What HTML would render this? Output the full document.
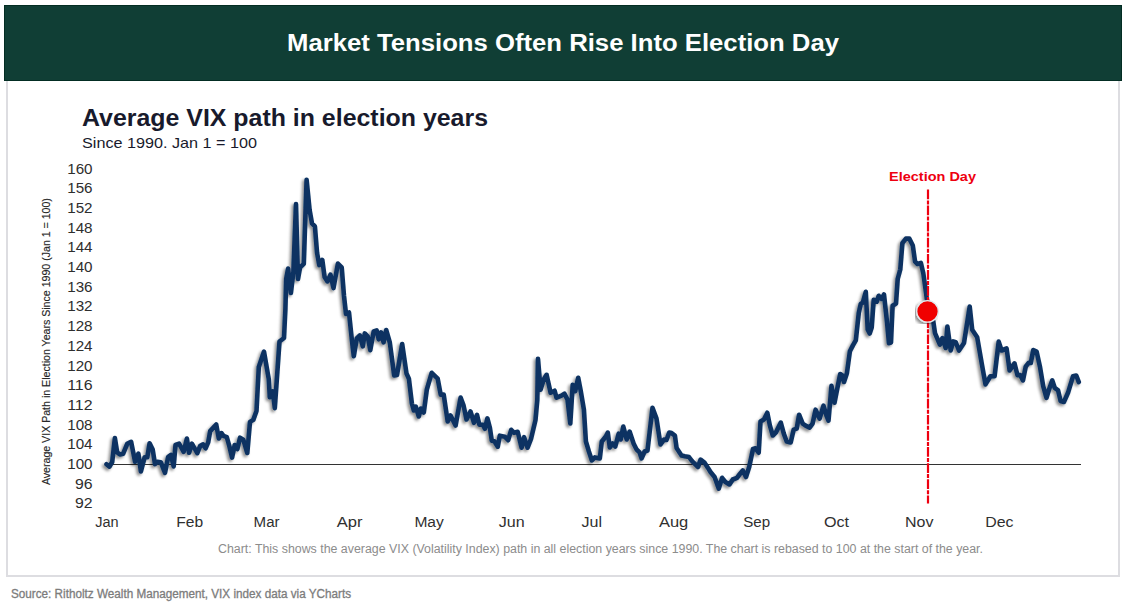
<!DOCTYPE html>
<html><head><meta charset="utf-8">
<style>
html,body{margin:0;padding:0;background:#fff;width:1124px;height:604px;overflow:hidden;}
svg{display:block;font-family:"Liberation Sans", sans-serif;}
</style></head><body>
<svg width="1124" height="604" viewBox="0 0 1124 604">
<defs>
<filter id="sh" x="-5%" y="-5%" width="110%" height="110%">
<feGaussianBlur in="SourceAlpha" stdDeviation="1.8"/>
<feOffset dx="-2" dy="2" result="b"/>
<feComponentTransfer><feFuncA type="linear" slope="0.45"/></feComponentTransfer>
<feMerge><feMergeNode/><feMergeNode in="SourceGraphic"/></feMerge>
</filter>
</defs>
<rect x="0" y="0" width="1124" height="604" fill="#ffffff"/>
<!-- box -->
<rect x="7" y="78" width="1112" height="498" fill="#fff" stroke="#dddde1" stroke-width="2"/>
<!-- header -->
<rect x="4.5" y="5.5" width="1117" height="75" fill="#103e35" stroke="#032d23" stroke-width="1"/>
<text x="287" y="51" fill="#ffffff" font-size="23.5" font-weight="bold" textLength="552" lengthAdjust="spacingAndGlyphs">Market Tensions Often Rise Into Election Day</text>
<!-- chart titles -->
<text x="82" y="126" fill="#181a2c" font-size="23.2" font-weight="bold" textLength="406" lengthAdjust="spacingAndGlyphs">Average VIX path in election years</text>
<text x="82" y="147.6" fill="#181a2c" font-size="15" textLength="175" lengthAdjust="spacingAndGlyphs">Since 1990. Jan 1 = 100</text>
<!-- y axis title -->
<text transform="translate(49.5 341.6) rotate(-90)" fill="#262626" stroke="#262626" stroke-width="0.15" font-size="10.5" text-anchor="middle" textLength="287" lengthAdjust="spacingAndGlyphs">Average VIX Path in Election Years Since 1990 (Jan 1 = 100)</text>
<g fill="#2e2e2e" font-size="14">
<text x="67.2" y="173.5" textLength="25.4" lengthAdjust="spacingAndGlyphs">160</text>
<text x="67.2" y="193.2" textLength="25.4" lengthAdjust="spacingAndGlyphs">156</text>
<text x="67.2" y="212.9" textLength="25.4" lengthAdjust="spacingAndGlyphs">152</text>
<text x="67.2" y="232.6" textLength="25.4" lengthAdjust="spacingAndGlyphs">148</text>
<text x="67.2" y="252.3" textLength="25.4" lengthAdjust="spacingAndGlyphs">144</text>
<text x="67.2" y="272.0" textLength="25.4" lengthAdjust="spacingAndGlyphs">140</text>
<text x="67.2" y="291.7" textLength="25.4" lengthAdjust="spacingAndGlyphs">136</text>
<text x="67.2" y="311.4" textLength="25.4" lengthAdjust="spacingAndGlyphs">132</text>
<text x="67.2" y="331.1" textLength="25.4" lengthAdjust="spacingAndGlyphs">128</text>
<text x="67.2" y="350.8" textLength="25.4" lengthAdjust="spacingAndGlyphs">124</text>
<text x="67.2" y="370.5" textLength="25.4" lengthAdjust="spacingAndGlyphs">120</text>
<text x="67.2" y="390.2" textLength="25.4" lengthAdjust="spacingAndGlyphs">116</text>
<text x="67.2" y="409.9" textLength="25.4" lengthAdjust="spacingAndGlyphs">112</text>
<text x="67.2" y="429.6" textLength="25.4" lengthAdjust="spacingAndGlyphs">108</text>
<text x="67.2" y="449.3" textLength="25.4" lengthAdjust="spacingAndGlyphs">104</text>
<text x="67.2" y="469.0" textLength="25.4" lengthAdjust="spacingAndGlyphs">100</text>
<text x="75.0" y="488.7" textLength="17.6" lengthAdjust="spacingAndGlyphs">96</text>
<text x="75.0" y="508.4" textLength="17.6" lengthAdjust="spacingAndGlyphs">92</text>

</g>
<g fill="#303030" font-size="14">
<text x="95.2" y="527" textLength="23.4" lengthAdjust="spacingAndGlyphs">Jan</text>
<text x="176.2" y="527" textLength="26.9" lengthAdjust="spacingAndGlyphs">Feb</text>
<text x="253.6" y="527" textLength="26.0" lengthAdjust="spacingAndGlyphs">Mar</text>
<text x="336.8" y="527" textLength="25.8" lengthAdjust="spacingAndGlyphs">Apr</text>
<text x="414.4" y="527" textLength="29.4" lengthAdjust="spacingAndGlyphs">May</text>
<text x="498.7" y="527" textLength="25.9" lengthAdjust="spacingAndGlyphs">Jun</text>
<text x="581.6" y="527" textLength="20.5" lengthAdjust="spacingAndGlyphs">Jul</text>
<text x="658.9" y="527" textLength="29.4" lengthAdjust="spacingAndGlyphs">Aug</text>
<text x="743.2" y="527" textLength="26.9" lengthAdjust="spacingAndGlyphs">Sep</text>
<text x="824.0" y="527" textLength="25.1" lengthAdjust="spacingAndGlyphs">Oct</text>
<text x="905.1" y="527" textLength="28.4" lengthAdjust="spacingAndGlyphs">Nov</text>
<text x="985.2" y="527" textLength="28.3" lengthAdjust="spacingAndGlyphs">Dec</text>

</g>
<line x1="105" y1="464.5" x2="1081" y2="464.5" stroke="#333333" stroke-width="1"/>
<path d="M106.5 464.2 L109.5 466.6 L112.2 462.0 L114.9 438.0 L117.2 452.4 L119.9 454.4 L123.2 453.7 L127.2 443.8 L131.1 441.8 L135.1 461.7 L138.4 453.7 L140.9 471.4 L144.6 457.3 L147.3 457.3 L149.6 443.2 L152.7 449.6 L155.0 464.1 L157.3 461.9 L160.9 462.3 L165.0 472.8 L168.2 456.8 L170.9 455.0 L173.7 466.4 L175.5 445.0 L179.1 443.7 L183.7 451.8 L186.9 438.6 L189.1 452.8 L191.9 443.7 L197.3 453.2 L200.3 445.7 L203.0 444.4 L205.6 448.3 L208.2 442.4 L210.2 431.1 L216.2 424.5 L218.8 438.4 L221.5 433.1 L223.5 435.8 L226.8 437.1 L229.4 446.4 L232.1 457.6 L234.7 445.0 L237.4 449.0 L240.0 437.7 L243.3 439.7 L247.3 453.0 L250.0 421.9 L253.3 419.9 L256.5 411.0 L258.8 367.0 L264.0 351.6 L268.8 379.4 L269.8 397.2 L272.8 391.3 L274.8 408.1 L279.5 341.5 L284.0 338.0 L285.4 309.0 L286.2 279.0 L288.1 268.6 L290.9 292.9 L293.4 272.0 L296.0 204.0 L298.0 279.0 L300.1 267.4 L303.8 263.9 L306.6 179.8 L309.6 210.0 L312.0 223.4 L314.9 226.4 L317.1 253.2 L319.3 265.1 L322.3 259.9 L324.6 277.0 L327.5 281.4 L330.5 274.7 L333.5 288.1 L337.9 263.6 L341.7 267.3 L344.0 296.0 L346.0 314.0 L349.0 312.5 L351.9 340.3 L353.8 356.2 L356.8 338.3 L359.8 335.4 L362.8 346.3 L364.8 333.4 L367.7 336.3 L370.3 350.2 L373.7 331.4 L376.7 330.4 L378.7 339.3 L381.0 332.4 L383.6 342.3 L386.2 330.0 L389.8 342.5 L394.2 375.5 L397.0 375.0 L402.2 344.0 L406.5 373.5 L408.9 378.7 L411.9 403.6 L413.9 410.5 L415.8 406.6 L418.8 416.5 L420.8 408.6 L423.8 412.5 L426.8 389.7 L431.7 372.8 L437.7 378.7 L440.7 394.6 L443.7 394.6 L447.7 421.5 L450.6 415.5 L455.6 425.5 L460.6 397.6 L463.6 405.6 L466.5 419.5 L470.5 411.5 L474.0 422.8 L477.0 414.9 L479.4 424.8 L482.9 424.8 L484.9 428.8 L487.4 418.4 L489.9 427.8 L491.8 440.7 L494.3 441.2 L497.8 446.7 L499.8 435.7 L504.8 436.7 L508.2 440.2 L511.2 429.8 L514.2 432.8 L517.7 431.8 L521.6 447.7 L524.1 437.2 L527.6 447.7 L531.0 439.0 L535.5 420.0 L537.3 400.0 L538.0 358.9 L540.6 389.7 L543.6 379.8 L546.6 374.8 L550.6 392.7 L554.6 390.7 L556.5 397.7 L561.5 395.7 L564.5 393.7 L567.5 399.6 L570.3 423.5 L572.7 384.8 L575.2 391.2 L578.2 377.8 L580.9 391.8 L583.9 409.7 L585.9 441.5 L588.9 451.5 L591.9 460.4 L594.9 457.4 L599.8 458.4 L601.8 441.5 L605.8 436.5 L607.8 432.6 L609.8 447.5 L612.7 443.5 L615.3 446.5 L618.7 433.6 L620.7 439.5 L623.3 426.6 L626.7 439.5 L629.6 431.6 L633.6 443.5 L636.6 449.5 L639.6 452.4 L641.6 458.4 L644.6 451.5 L647.5 450.5 L652.5 407.7 L656.5 418.6 L660.5 444.5 L664.0 439.6 L666.5 440.0 L669.2 432.5 L671.6 433.1 L674.9 435.6 L676.6 448.0 L681.5 455.5 L684.8 456.3 L689.0 457.1 L692.3 461.3 L698.1 467.0 L700.6 459.6 L704.7 462.9 L708.0 467.9 L710.5 472.0 L714.6 477.0 L718.8 488.6 L722.1 477.8 L725.4 482.0 L729.5 484.4 L732.8 479.5 L737.0 477.8 L739.5 474.5 L742.8 470.4 L746.0 477.0 L749.2 467.0 L753.0 449.0 L755.5 448.3 L758.7 452.7 L760.5 421.6 L763.9 419.6 L767.3 412.7 L769.9 425.6 L772.8 435.5 L775.8 432.6 L780.8 422.6 L783.8 433.6 L786.7 441.5 L790.7 442.5 L793.7 429.6 L796.7 428.6 L799.1 414.7 L802.7 423.6 L805.6 425.6 L809.6 427.6 L812.6 423.6 L815.6 409.7 L819.6 418.6 L823.5 405.7 L826.5 415.7 L828.5 420.6 L831.5 385.8 L834.5 402.7 L837.2 389.0 L840.2 374.0 L842.0 375.2 L844.0 382.0 L846.9 373.2 L849.9 351.3 L852.9 345.4 L855.8 340.4 L858.8 312.7 L860.8 303.7 L862.8 302.7 L865.8 291.8 L867.7 329.5 L869.7 333.5 L871.7 327.5 L873.7 299.8 L876.7 301.7 L878.7 295.8 L881.6 298.8 L884.0 294.5 L887.0 322.0 L889.0 343.2 L891.0 342.5 L892.6 305.8 L896.0 303.6 L897.7 279.0 L900.3 269.3 L902.4 243.2 L905.9 238.6 L909.3 238.6 L912.8 245.5 L915.1 261.7 L917.5 264.0 L920.9 262.9 L923.3 273.3 L925.6 289.6 L926.8 298.8 L929.5 311.0 L933.3 321.5 L935.0 333.1 L939.9 344.7 L942.4 338.1 L945.7 348.0 L947.4 326.5 L950.7 350.5 L953.2 341.4 L955.7 342.2 L959.0 350.5 L964.0 343.0 L969.7 306.6 L972.2 329.8 L977.2 337.3 L982.2 366.2 L985.5 384.4 L990.4 376.2 L994.6 376.2 L998.7 341.6 L1001.6 350.5 L1006.6 348.5 L1009.6 370.4 L1014.5 363.4 L1017.5 375.3 L1020.2 375.0 L1023.0 380.4 L1025.7 366.7 L1028.8 362.7 L1030.8 363.0 L1033.3 350.0 L1036.6 351.5 L1039.9 366.4 L1043.2 386.2 L1046.5 397.8 L1049.0 389.5 L1052.3 380.4 L1054.8 387.9 L1058.1 390.4 L1060.6 401.1 L1063.9 402.0 L1068.0 392.8 L1073.0 376.3 L1076.3 375.5 L1078.8 382.1" fill="none" stroke="#0b3262" stroke-width="4.6" stroke-linejoin="round" stroke-linecap="round" filter="url(#sh)"/>
<line x1="928" y1="189.5" x2="928" y2="503.5" stroke="#ee0010" stroke-width="2.2" stroke-dasharray="9.7 1.2 4 1.2"/>
<g filter="url(#sh)"><circle cx="927.5" cy="311.4" r="10.8" fill="#f00000" stroke="#e2ebef" stroke-width="1.3"/></g>
<text x="889" y="181" fill="#ee0010" font-size="13.5" font-weight="bold" textLength="87" lengthAdjust="spacingAndGlyphs">Election Day</text>
<text x="218" y="553" fill="#8c8c8c" font-size="12.5" textLength="765" lengthAdjust="spacingAndGlyphs">Chart: This shows the average VIX (Volatility Index) path in all election years since 1990. The chart is rebased to 100 at the start of the year.</text>
<text x="11" y="598" fill="#7c7c7c" stroke="#7c7c7c" stroke-width="0.3" font-size="12.3" textLength="340" lengthAdjust="spacingAndGlyphs">Source: Ritholtz Wealth Management, VIX index data via YCharts</text>
</svg>
</body></html>
